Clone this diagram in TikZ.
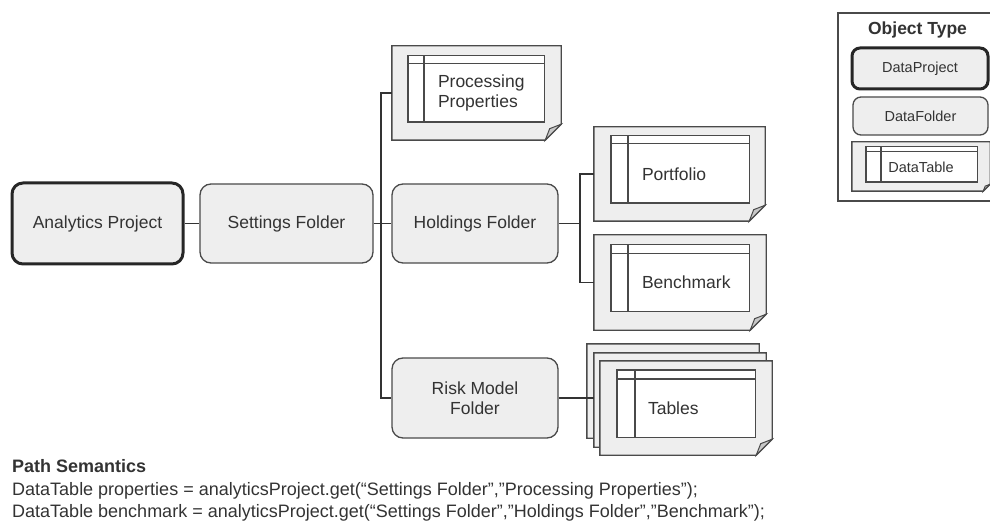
\documentclass[tikz,border=0pt]{standalone}
\usepackage{fontspec}
\setmainfont{Liberation Sans}
\usetikzlibrary{calc}

\definecolor{boxfill}{HTML}{EEEEEE}
\definecolor{edge}{HTML}{4A4A4A}
\definecolor{ink}{HTML}{333333}
\definecolor{foldfill}{HTML}{C8C8C8}

\tikzset{
  mainfont/.style={font=\fontsize{17.5}{20.5}\selectfont},
  smallfont/.style={font=\fontsize{14.5}{17}\selectfont},
  folderbox/.style={draw=edge, fill=boxfill, rounded corners=11pt, line width=1.3pt,
    text=ink, mainfont, align=center, inner sep=0pt},
  projectbox/.style={folderbox, draw=black!85, line width=3pt},
  docframe/.style={inner sep=0pt, draw=none},
  docline/.style={draw=edge, line width=1.4pt, line join=miter},
  doclabel/.style={text=ink, mainfont, align=left, inner sep=0pt, anchor=west},
  wire/.style={draw=ink, line width=1.3pt},
  notefont/.style={text=ink, font=\fontsize{18}{21}\selectfont, inner sep=0pt, anchor=base west},
}

% sheet with a folded bottom-right corner: #1 node name, #2 fold size
\newcommand\papersheet[2]{%
  \filldraw[docline, fill=boxfill] (#1.north west) -- (#1.north east)
    -- ([yshift=#2]#1.south east) -- ([xshift=-#2]#1.south east)
    -- (#1.south west) -- cycle;
  \filldraw[docline, fill=foldfill, line width=1pt] ([yshift=#2]#1.south east)
    -- ([xshift=-0.72*#2, yshift=0.72*#2]#1.south east)
    -- ([xshift=-#2]#1.south east) -- cycle;
}
% sheet plus a table grid: #3..#6 insets (left, top, right, bottom), #7 column width, #8 header height
\newcommand\paperdoc[8]{%
  \papersheet{#1}{#2}%
  \draw[docline, fill=white] ([xshift=#3, yshift=-#4]#1.north west)
    rectangle ([xshift=-#5, yshift=#6]#1.south east);
  \draw[docline] ([xshift=#3+#7, yshift=-#4]#1.north west)
    -- ([xshift=#3+#7, yshift=#6]#1.south west);
  \draw[docline] ([xshift=#3, yshift=-#4-#8]#1.north west)
    -- ([xshift=-#5, yshift=-#4-#8]#1.north east);
}

\begin{document}
\begin{tikzpicture}[x=1pt, y=-1pt]
\useasboundingbox (0,0) rectangle (990,521);
\clip (0,0) rectangle (990,521);

% --- data tables ---
\node[docframe, minimum width=169pt, minimum height=94pt] (procdoc) at (476.5,93) {};
\node[docframe, minimum width=171pt, minimum height=94pt] (portfolio) at (679.5,174) {};
\node[docframe, minimum width=172pt, minimum height=95pt] (benchmark) at (680,282.5) {};
\node[docframe, minimum width=172pt, minimum height=94pt] (tablesback) at (673,391) {};
\node[docframe, minimum width=172pt, minimum height=94pt] (tablesmid) at (680,400) {};
\node[docframe, minimum width=172pt, minimum height=94pt] (tables) at (686,408) {};

\paperdoc{procdoc}{16pt}{16pt}{10pt}{17pt}{18pt}{16pt}{8pt}
\paperdoc{portfolio}{16pt}{17pt}{9pt}{16pt}{18pt}{17pt}{8pt}
\paperdoc{benchmark}{16pt}{17pt}{10pt}{17pt}{19pt}{17pt}{9pt}
\papersheet{tablesback}{16pt}
\papersheet{tablesmid}{16pt}
\paperdoc{tables}{16pt}{17pt}{9pt}{17pt}{18pt}{18pt}{9pt}

\node[doclabel] (procdoc-t) at ([xshift=46pt]procdoc.west) {Processing\\Properties};
\node[doclabel] (portfolio-t) at ([xshift=48pt]portfolio.west) {Portfolio};
\node[doclabel] (benchmark-t) at ([xshift=48pt]benchmark.west) {Benchmark};
\node[doclabel] (tables-t) at ([xshift=48pt]tables.west) {Tables};

% --- project and folders ---
\node[projectbox, minimum width=171pt, minimum height=81pt] (proj) at (97.5,223.5) {Analytics Project};
\node[folderbox, minimum width=173pt, minimum height=79pt] (settings) at (286.5,223.5) {Settings Folder};
\node[folderbox, minimum width=166pt, minimum height=79pt] (holdings) at (475,223.5) {Holdings Folder};
\node[folderbox, minimum width=166pt, minimum height=80pt] (risk) at (475,398) {Risk Model\\Folder};

% --- connectors ---
\coordinate (bus) at (381,223.5);
\coordinate (bus2) at (580,223.5);
\draw[wire] (proj.east) -- (settings.west);
\draw[wire] (settings.east) -- (holdings.west);
\draw[wire] (procdoc.west) -| (bus) |- (risk.west);
\draw[wire] (risk.east) -- (risk.east -| tablesmid.west);
\draw[wire] (holdings.east) -- (bus2);
\draw[wire] (portfolio.west) -| (bus2) |- (benchmark.west);

% --- legend ---
\node[draw=edge, line width=1.3pt, fill=white, minimum width=162pt, minimum height=188pt, inner sep=0pt] (legend) at (919,107) {};
\node[text=ink, font=\fontsize{17.5}{20}\selectfont\bfseries, inner sep=0pt] (legend-t) at (917.5,30) {Object Type};
\node[projectbox, smallfont, rounded corners=8pt, minimum width=136pt, minimum height=41pt] (lproj) at (920,68.5) {DataProject};
\node[folderbox, smallfont, rounded corners=8pt, minimum width=135pt, minimum height=38pt] (lfolder) at (920.5,116) {DataFolder};
\node[docframe, minimum width=138pt, minimum height=49pt] (ltable) at (921,166.5) {};
\paperdoc{ltable}{7pt}{14pt}{5pt}{13pt}{9pt}{15pt}{5pt}
\node[text=ink, smallfont, inner sep=0pt] (ltable-t) at (921,167) {DataTable};

% --- path notes ---
\node[notefont, font=\fontsize{18}{21}\selectfont\bfseries] (note1) at (12,472) {Path Semantics};
\node[notefont] (note2) at (12,495) {DataTable properties = analyticsProject.get(“Settings Folder”,”Processing Properties”);};
\node[notefont] (note3) at (12,517) {DataTable benchmark = analyticsProject.get(“Settings Folder”,”Holdings Folder”,”Benchmark”);};
\end{tikzpicture}
\end{document}
